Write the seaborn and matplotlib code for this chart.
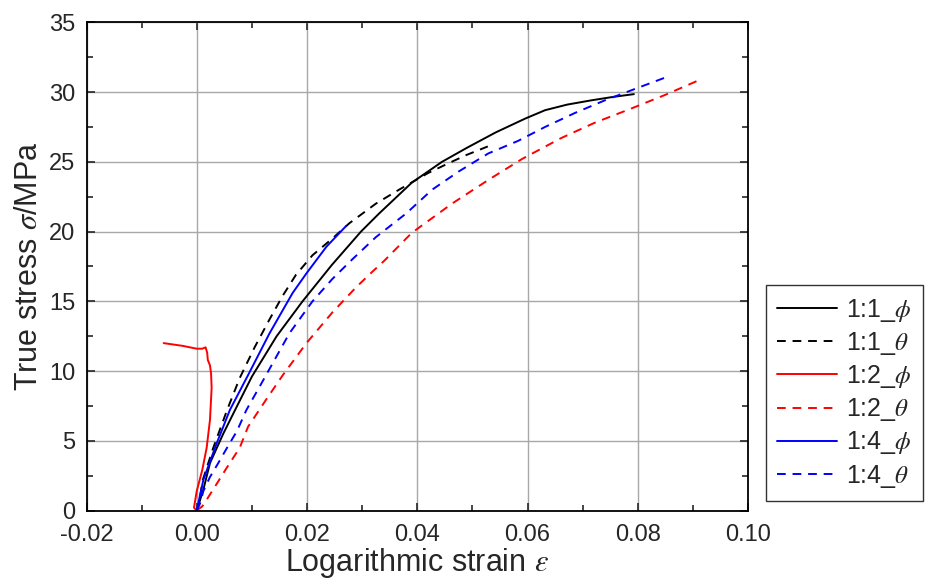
import matplotlib
matplotlib.use("Agg")
import matplotlib.pyplot as plt
import seaborn as sns
import pandas as pd

# strain / stress
s11_phi_x = [0, 0.0012, 0.0024, 0.0048, 0.0072, 0.0100, 0.0145, 0.0192, 0.0245, 0.0298,
             0.0331, 0.0390, 0.0445, 0.0490, 0.0542, 0.0596, 0.0632, 0.0672, 0.0715, 0.0755, 0.0793]
s11_phi_y = [0, 1.5, 3.4, 5.5, 7.4, 9.6, 12.5, 15.0, 17.6, 20.0,
             21.3, 23.5, 25.0, 26.0, 27.1, 28.1, 28.7, 29.1, 29.4, 29.65, 29.85]

s11_theta_x = [0, 0.0004, 0.0011, 0.0030, 0.0055, 0.0078, 0.0105, 0.0132, 0.0156, 0.0180,
               0.0210, 0.0246, 0.0277, 0.0325, 0.0367, 0.0420, 0.0457, 0.0490, 0.0528]
s11_theta_y = [0, 0.5, 2.2, 4.5, 7.2, 9.5, 11.7, 13.7, 15.4, 16.9,
               18.3, 19.5, 20.6, 22.0, 23.0, 24.2, 24.9, 25.5, 26.1]

s12_phi_x = [0, -0.0005, 0, 0.0010, 0.0018, 0.0024, 0.0027, 0.0026, 0.0024, 0.0020,
             0.0019, 0.0016, 0.0010, 0, -0.0025, -0.0060]
s12_phi_y = [0, 0.2, 1.4, 2.9, 4.5, 6.5, 8.8, 9.8, 10.4, 10.8,
             11.3, 11.7, 11.6, 11.6, 11.8, 12.0]

s12_theta_x = [0, 0.0010, 0.0020, 0.0036, 0.0055, 0.0078, 0.0093, 0.0125, 0.0156, 0.0199,
               0.0246, 0.0289, 0.0318, 0.0340, 0.0390, 0.0463, 0.0529, 0.0590, 0.0661, 0.0722,
               0.0787, 0.0850, 0.0908]
s12_theta_y = [0, 0.3, 0.9, 1.9, 3.1, 4.5, 6.0, 7.9, 9.7, 12.0,
               14.2, 16.0, 17.1, 17.9, 19.9, 22.0, 23.7, 25.2, 26.7, 27.8,
               28.8, 29.8, 30.8]

s14_phi_x = [0, 0.0012, 0.0036, 0.0060, 0.0093, 0.0132, 0.0174, 0.0199, 0.0235, 0.0271]
s14_phi_y = [0, 2.2, 4.8, 7.2, 9.7, 12.7, 15.6, 17.0, 18.9, 20.4]

s14_theta_x = [0, 0.0006, 0.0012, 0.0024, 0.0039, 0.0055, 0.0073, 0.0090, 0.0120, 0.0168,
               0.0210, 0.0246, 0.0282, 0.0325, 0.0380, 0.0427, 0.0475, 0.0529, 0.0583, 0.0632,
               0.0686, 0.0740, 0.0800, 0.0854]
s14_theta_y = [0, 0.5, 1.4, 2.4, 3.4, 4.5, 5.7, 7.2, 9.3, 12.7,
               15.0, 16.6, 18.0, 19.6, 21.3, 23.0, 24.3, 25.6, 26.5, 27.5,
               28.5, 29.4, 30.3, 31.1]

labels = [r"1:1_$\phi$", r"1:1_$\theta$", r"1:2_$\phi$", r"1:2_$\theta$", r"1:4_$\phi$", r"1:4_$\theta$"]
colors = ["black", "black", "red", "red", "blue", "blue"]
styles = ["-", (0, (4.5, 3.5)), "-", (0, (4.5, 3.5)), "-", (0, (4.5, 3.5))]
series = [(s11_phi_x, s11_phi_y), (s11_theta_x, s11_theta_y),
          (s12_phi_x, s12_phi_y), (s12_theta_x, s12_theta_y),
          (s14_phi_x, s14_phi_y), (s14_theta_x, s14_theta_y)]

sns.set_style("ticks")
plt.rcParams["font.family"] = ["Liberation Sans", "DejaVu Sans"]
plt.rcParams["mathtext.fontset"] = "stix"

fig = plt.figure(figsize=(9.31, 5.81), dpi=100)
ax = fig.add_axes([86.5 / 931, 1 - 510.5 / 581, (748 - 86.5) / 931, (510.5 - 22.3) / 581])

handles = []
for (xs, ys), lab, col, ls in zip(series, labels, colors, styles):
    df = pd.DataFrame({"strain": xs, "stress": ys})
    sns.lineplot(data=df, x="strain", y="stress", sort=False, estimator=None,
                 color=col, linestyle=ls, linewidth=1.4, ax=ax)
    handles.append(ax.lines[-1])

ax.set_xlim(-0.02, 0.10)
ax.set_ylim(0, 35)
ax.set_xticks([-0.02, 0.0, 0.02, 0.04, 0.06, 0.08, 0.10])
ax.set_xticklabels(["-0.02", "0.00", "0.02", "0.04", "0.06", "0.08", "0.10"])
ax.set_yticks(range(0, 36, 5))
ax.set_xticks([-0.01, 0.01, 0.03, 0.05, 0.07, 0.09], minor=True)
ax.set_yticks([2.5, 7.5, 12.5, 17.5, 22.5, 27.5, 32.5], minor=True)
ax.grid(True, which="major", color="#a8a8a8", linewidth=1.0)
ax.set_axisbelow(True)
ax.tick_params(which="both", direction="in", top=True, right=True, labelsize=17, width=1.2)
ax.tick_params(which="major", length=6)
ax.tick_params(which="minor", length=4)
ax.tick_params(axis="x", which="major", pad=10)
ax.tick_params(axis="y", which="major", pad=8)
for sp in ax.spines.values():
    sp.set_linewidth(1.3)
    sp.set_color("black")

ax.set_xlabel(r"Logarithmic strain $\varepsilon$", fontsize=22, labelpad=0)
ax.set_ylabel(r"True stress $\sigma$/MPa", fontsize=22, labelpad=4)

fig.legend(handles, labels, loc="lower left", bbox_to_anchor=(766 / 931, 1 - 501 / 581),
           borderaxespad=0, fontsize=18, frameon=True, fancybox=False, edgecolor="black",
           handlelength=2.4, handletextpad=0.35, labelspacing=0.25, borderpad=0.45)
fig.legends[0].get_frame().set_linewidth(1.0)

fig.savefig("out.png", dpi=100)
